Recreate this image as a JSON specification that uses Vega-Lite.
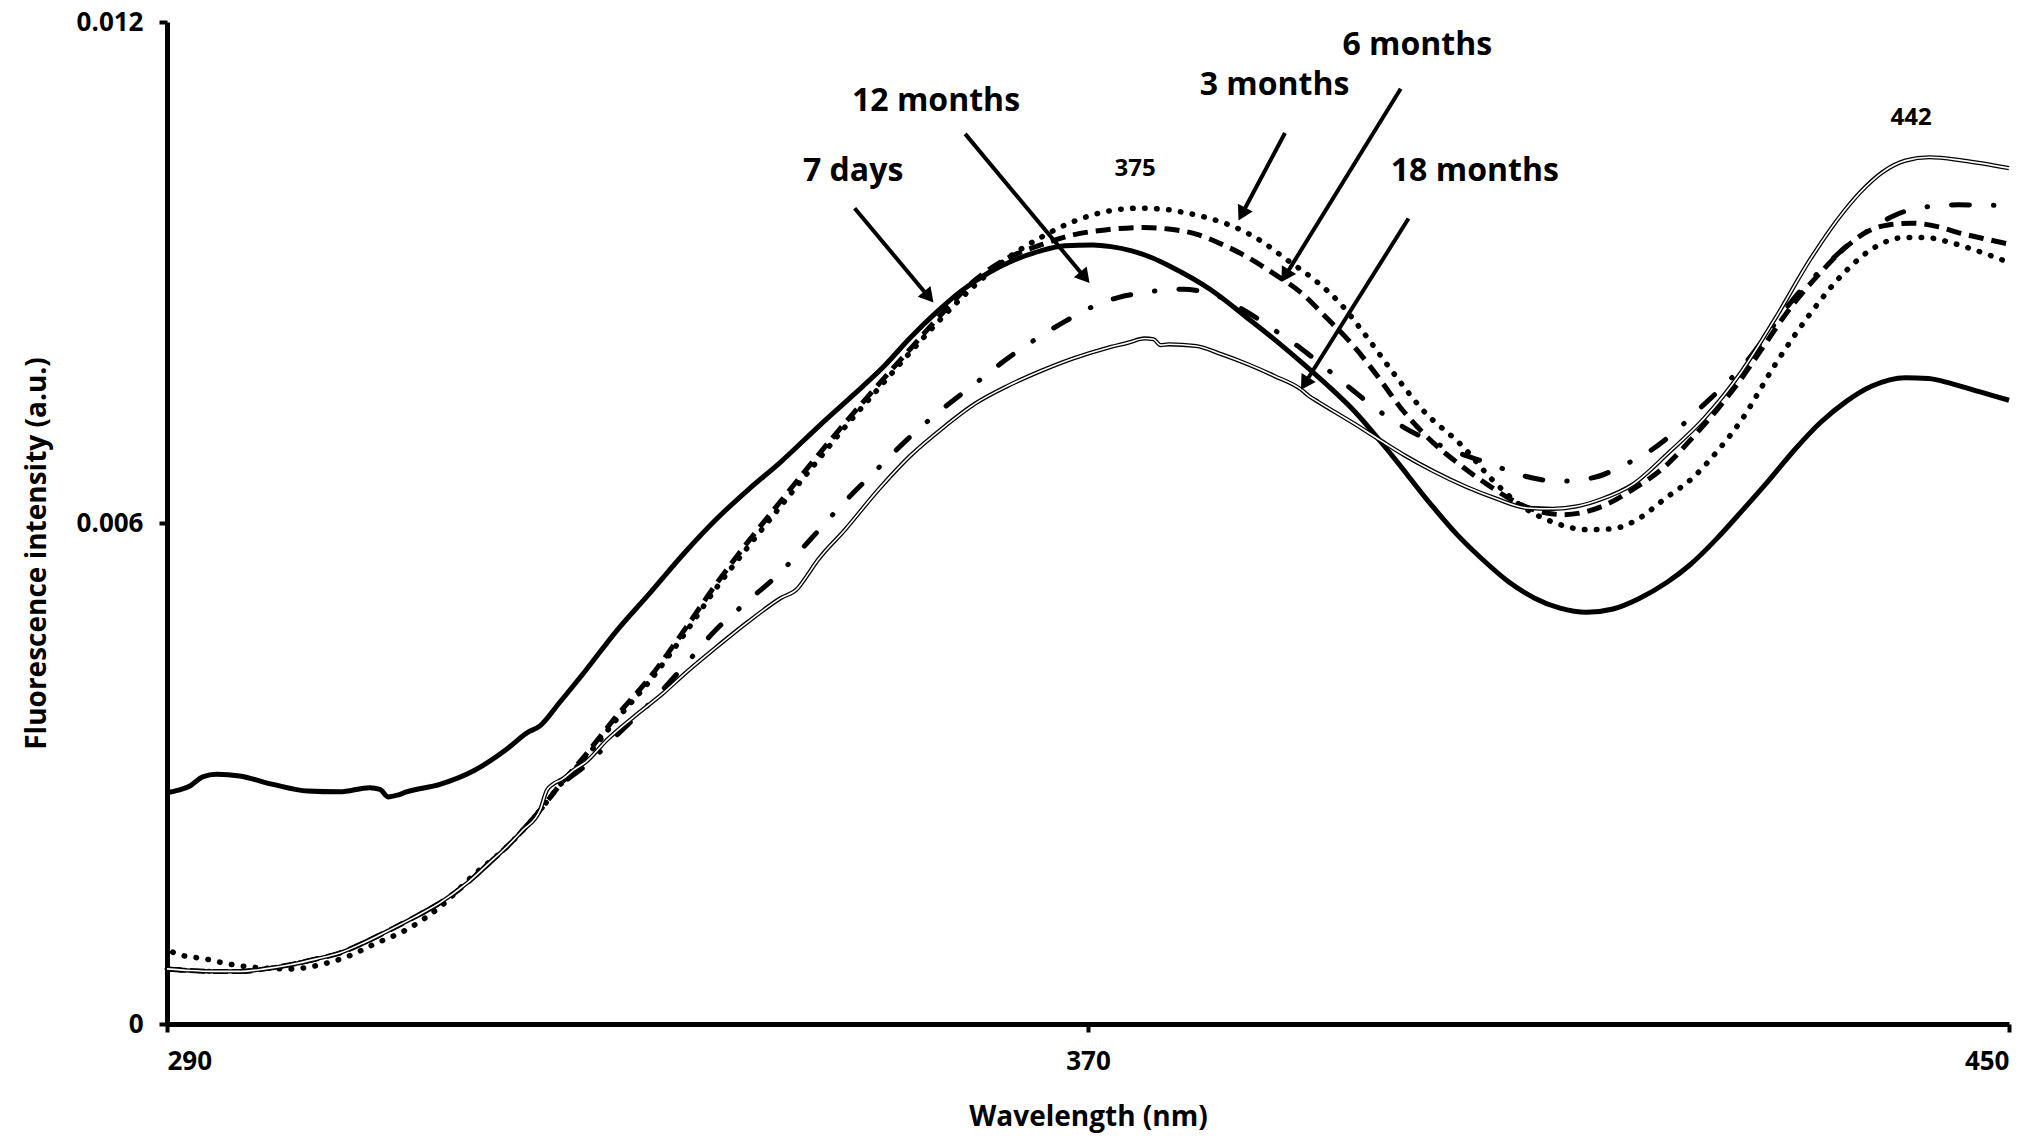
{
"$schema":"https://vega.github.io/schema/vega-lite/v6.json",
"width":1842,"height":1002,
"autosize":{"type":"none"},
"padding":{"left":167,"top":22,"right":31,"bottom":114},
"background":"white",
"config":{"view":{"stroke":null},
"axis":{"grid":false,"domainColor":"black","domainWidth":5,"tickColor":"black","tickWidth":4,"tickSize":8,"labelFont":"Open Sans","labelFontWeight":"bold","labelFontSize":26,"labelColor":"black","titleFont":"Open Sans","titleFontWeight":"bold","titleColor":"black","labelPadding":16},
"axisX":{"titleFontSize":28,"titlePadding":29},
"axisY":{"titleFontSize":28,"titlePadding":25}},
"datasets":{
"spectra":[
{"s":"7 days","w":290,"v":0.00277},{"s":"7 days","w":291,"v":0.00280},{"s":"7 days","w":292,"v":0.00285},{"s":"7 days","w":293.1,"v":0.00296},{"s":"7 days","w":294.3,"v":0.00299},{"s":"7 days","w":296.3,"v":0.00297},{"s":"7 days","w":299.2,"v":0.00287},{"s":"7 days","w":302.2,"v":0.00279},{"s":"7 days","w":305,"v":0.00278},{"s":"7 days","w":307.6,"v":0.00283},{"s":"7 days","w":308.5,"v":0.00281},{"s":"7 days","w":309.2,"v":0.00272},{"s":"7 days","w":310,"v":0.00274},{"s":"7 days","w":310.8,"v":0.00278},{"s":"7 days","w":313.7,"v":0.00287},{"s":"7 days","w":316.6,"v":0.00303},{"s":"7 days","w":319.5,"v":0.00329},{"s":"7 days","w":321.3,"v":0.00349},{"s":"7 days","w":322.4,"v":0.00357},{"s":"7 days","w":324.1,"v":0.00385},{"s":"7 days","w":326.4,"v":0.00424},{"s":"7 days","w":329,"v":0.00470},{"s":"7 days","w":332,"v":0.00517},{"s":"7 days","w":335,"v":0.00565},{"s":"7 days","w":337.6,"v":0.00603},{"s":"7 days","w":340.5,"v":0.00640},{"s":"7 days","w":343.3,"v":0.00673},{"s":"7 days","w":346.7,"v":0.00717},{"s":"7 days","w":349.5,"v":0.00752},{"s":"7 days","w":352.3,"v":0.00788},{"s":"7 days","w":354.5,"v":0.00821},{"s":"7 days","w":356.8,"v":0.00852},{"s":"7 days","w":359,"v":0.00878},{"s":"7 days","w":361.4,"v":0.00900},{"s":"7 days","w":363.6,"v":0.00915},{"s":"7 days","w":365.9,"v":0.00926},{"s":"7 days","w":368,"v":0.00932},{"s":"7 days","w":370.4,"v":0.00933},{"s":"7 days","w":372,"v":0.00931},{"s":"7 days","w":373.8,"v":0.00926},{"s":"7 days","w":375.5,"v":0.00918},{"s":"7 days","w":377.2,"v":0.00907},{"s":"7 days","w":380.6,"v":0.00880},{"s":"7 days","w":383.9,"v":0.00845},{"s":"7 days","w":386,"v":0.00822},{"s":"7 days","w":388.5,"v":0.00793},{"s":"7 days","w":390.8,"v":0.00765},{"s":"7 days","w":393,"v":0.00736},{"s":"7 days","w":396.4,"v":0.00681},{"s":"7 days","w":399.8,"v":0.00622},{"s":"7 days","w":402,"v":0.00587},{"s":"7 days","w":404.3,"v":0.00556},{"s":"7 days","w":406.5,"v":0.00530},{"s":"7 days","w":408.8,"v":0.00510},{"s":"7 days","w":411,"v":0.00498},{"s":"7 days","w":413.3,"v":0.00493},{"s":"7 days","w":415.6,"v":0.00497},{"s":"7 days","w":417.8,"v":0.00509},{"s":"7 days","w":420.3,"v":0.00529},{"s":"7 days","w":422.3,"v":0.00550},{"s":"7 days","w":424.6,"v":0.00581},{"s":"7 days","w":426.9,"v":0.00616},{"s":"7 days","w":429.2,"v":0.00652},{"s":"7 days","w":431.4,"v":0.00688},{"s":"7 days","w":433.6,"v":0.00720},{"s":"7 days","w":435.9,"v":0.00746},{"s":"7 days","w":438.1,"v":0.00764},{"s":"7 days","w":441,"v":0.00774},{"s":"7 days","w":443,"v":0.00773},{"s":"7 days","w":445,"v":0.00767},{"s":"7 days","w":447.5,"v":0.00757},{"s":"7 days","w":450,"v":0.00747},

{"s":"3 months","w":290.5,"v":0.00086},{"s":"3 months","w":291.1,"v":0.00083},{"s":"3 months","w":293.3,"v":0.00078},{"s":"3 months","w":295.3,"v":0.00072},{"s":"3 months","w":297.5,"v":0.00068},{"s":"3 months","w":300.7,"v":0.00066},{"s":"3 months","w":303.9,"v":0.00073},{"s":"3 months","w":305.9,"v":0.00082},{"s":"3 months","w":307.9,"v":0.00095},{"s":"3 months","w":310.8,"v":0.00113},{"s":"3 months","w":313.7,"v":0.00140},{"s":"3 months","w":316.6,"v":0.00178},{"s":"3 months","w":319.5,"v":0.00212},{"s":"3 months","w":320.9,"v":0.00232},{"s":"3 months","w":322.4,"v":0.00256},{"s":"3 months","w":324,"v":0.00284},{"s":"3 months","w":326.4,"v":0.00320},{"s":"3 months","w":329,"v":0.00364},{"s":"3 months","w":332,"v":0.00412},{"s":"3 months","w":335,"v":0.00468},{"s":"3 months","w":337.6,"v":0.00520},{"s":"3 months","w":340.5,"v":0.00572},{"s":"3 months","w":343.3,"v":0.00620},{"s":"3 months","w":346,"v":0.00666},{"s":"3 months","w":348.9,"v":0.00715},{"s":"3 months","w":351.8,"v":0.00761},{"s":"3 months","w":354.6,"v":0.00805},{"s":"3 months","w":357.4,"v":0.00847},{"s":"3 months","w":360.2,"v":0.00885},{"s":"3 months","w":363,"v":0.00917},{"s":"3 months","w":365.9,"v":0.00942},{"s":"3 months","w":368.2,"v":0.00958},{"s":"3 months","w":370.4,"v":0.00969},{"s":"3 months","w":372.4,"v":0.00975},{"s":"3 months","w":374.4,"v":0.00977},{"s":"3 months","w":376.4,"v":0.00976},{"s":"3 months","w":378.3,"v":0.00972},{"s":"3 months","w":380.5,"v":0.00965},{"s":"3 months","w":382.8,"v":0.00954},{"s":"3 months","w":385,"v":0.00938},{"s":"3 months","w":387.3,"v":0.00915},{"s":"3 months","w":389.6,"v":0.00892},{"s":"3 months","w":391.9,"v":0.00863},{"s":"3 months","w":394.1,"v":0.00825},{"s":"3 months","w":396.4,"v":0.00782},{"s":"3 months","w":399.1,"v":0.00735},{"s":"3 months","w":402.6,"v":0.00691},{"s":"3 months","w":405.1,"v":0.00652},{"s":"3 months","w":407.5,"v":0.00622},{"s":"3 months","w":410.4,"v":0.00601},{"s":"3 months","w":413.4,"v":0.00592},{"s":"3 months","w":415.5,"v":0.00593},{"s":"3 months","w":417.3,"v":0.00601},{"s":"3 months","w":420.3,"v":0.00631},{"s":"3 months","w":422.6,"v":0.00655},{"s":"3 months","w":424.6,"v":0.00685},{"s":"3 months","w":426.7,"v":0.00722},{"s":"3 months","w":429.7,"v":0.00790},{"s":"3 months","w":432.7,"v":0.00850},{"s":"3 months","w":435.7,"v":0.00900},{"s":"3 months","w":438.7,"v":0.00933},{"s":"3 months","w":441,"v":0.00942},{"s":"3 months","w":442.6,"v":0.00942},{"s":"3 months","w":444.9,"v":0.00936},{"s":"3 months","w":446.8,"v":0.00928},{"s":"3 months","w":450,"v":0.00912},

{"s":"6 months","w":290,"v":0.00066},{"s":"6 months","w":292,"v":0.00064},{"s":"6 months","w":294,"v":0.00063},{"s":"6 months","w":296.3,"v":0.00063},{"s":"6 months","w":298.5,"v":0.00066},{"s":"6 months","w":300.7,"v":0.00071},{"s":"6 months","w":303,"v":0.00078},{"s":"6 months","w":305,"v":0.00085},{"s":"6 months","w":307.2,"v":0.00098},{"s":"6 months","w":309.4,"v":0.00113},{"s":"6 months","w":311.5,"v":0.00128},{"s":"6 months","w":313.7,"v":0.00145},{"s":"6 months","w":316,"v":0.00168},{"s":"6 months","w":318,"v":0.00193},{"s":"6 months","w":319.5,"v":0.00212},{"s":"6 months","w":320.9,"v":0.00232},{"s":"6 months","w":322.4,"v":0.00256},{"s":"6 months","w":324,"v":0.00284},{"s":"6 months","w":326.4,"v":0.00323},{"s":"6 months","w":329,"v":0.00368},{"s":"6 months","w":332,"v":0.00416},{"s":"6 months","w":335,"v":0.00473},{"s":"6 months","w":337.6,"v":0.00525},{"s":"6 months","w":340.5,"v":0.00578},{"s":"6 months","w":343.3,"v":0.00626},{"s":"6 months","w":346,"v":0.00672},{"s":"6 months","w":348.9,"v":0.00720},{"s":"6 months","w":351.8,"v":0.00766},{"s":"6 months","w":354.6,"v":0.00809},{"s":"6 months","w":357.4,"v":0.00852},{"s":"6 months","w":360.2,"v":0.00891},{"s":"6 months","w":363,"v":0.00917},{"s":"6 months","w":365.9,"v":0.00933},{"s":"6 months","w":368.7,"v":0.00945},{"s":"6 months","w":371.5,"v":0.00951},{"s":"6 months","w":374.9,"v":0.00954},{"s":"6 months","w":377,"v":0.00952},{"s":"6 months","w":379.4,"v":0.00946},{"s":"6 months","w":381.6,"v":0.00934},{"s":"6 months","w":383.9,"v":0.00918},{"s":"6 months","w":386.2,"v":0.00898},{"s":"6 months","w":388.5,"v":0.00876},{"s":"6 months","w":390.7,"v":0.00846},{"s":"6 months","w":393,"v":0.00813},{"s":"6 months","w":395.2,"v":0.00775},{"s":"6 months","w":397.1,"v":0.00739},{"s":"6 months","w":400,"v":0.00696},{"s":"6 months","w":402,"v":0.00673},{"s":"6 months","w":404.7,"v":0.00646},{"s":"6 months","w":408.1,"v":0.00619},{"s":"6 months","w":411.3,"v":0.00610},{"s":"6 months","w":414.5,"v":0.00619},{"s":"6 months","w":417.3,"v":0.00640},{"s":"6 months","w":420.3,"v":0.00670},{"s":"6 months","w":422.5,"v":0.00702},{"s":"6 months","w":424.6,"v":0.00735},{"s":"6 months","w":426.7,"v":0.00772},{"s":"6 months","w":428.7,"v":0.00812},{"s":"6 months","w":430.6,"v":0.00850},{"s":"6 months","w":433.9,"v":0.00904},{"s":"6 months","w":435.8,"v":0.00930},{"s":"6 months","w":437.7,"v":0.00949},{"s":"6 months","w":439.5,"v":0.00957},{"s":"6 months","w":441.6,"v":0.00959},{"s":"6 months","w":443.8,"v":0.00955},{"s":"6 months","w":445.8,"v":0.00947},{"s":"6 months","w":448,"v":0.00940},{"s":"6 months","w":450,"v":0.00934},

{"s":"12 months","w":290,"v":0.00066},{"s":"12 months","w":292,"v":0.00064},{"s":"12 months","w":294,"v":0.00063},{"s":"12 months","w":296.3,"v":0.00063},{"s":"12 months","w":298.5,"v":0.00066},{"s":"12 months","w":300.7,"v":0.00071},{"s":"12 months","w":303,"v":0.00078},{"s":"12 months","w":305,"v":0.00085},{"s":"12 months","w":307.2,"v":0.00098},{"s":"12 months","w":309.4,"v":0.00113},{"s":"12 months","w":311.5,"v":0.00128},{"s":"12 months","w":313.7,"v":0.00145},{"s":"12 months","w":316,"v":0.00168},{"s":"12 months","w":318,"v":0.00193},{"s":"12 months","w":319.5,"v":0.00212},{"s":"12 months","w":320.9,"v":0.00232},{"s":"12 months","w":322.4,"v":0.00256},{"s":"12 months","w":324,"v":0.00283},{"s":"12 months","w":326.4,"v":0.00310},{"s":"12 months","w":329,"v":0.00345},{"s":"12 months","w":332,"v":0.00385},{"s":"12 months","w":335,"v":0.00430},{"s":"12 months","w":337.6,"v":0.00471},{"s":"12 months","w":340.5,"v":0.00507},{"s":"12 months","w":343.3,"v":0.00541},{"s":"12 months","w":346,"v":0.00582},{"s":"12 months","w":348.9,"v":0.00626},{"s":"12 months","w":351.8,"v":0.00666},{"s":"12 months","w":354.6,"v":0.00704},{"s":"12 months","w":357.4,"v":0.00737},{"s":"12 months","w":360.2,"v":0.00767},{"s":"12 months","w":363,"v":0.00797},{"s":"12 months","w":365.9,"v":0.00824},{"s":"12 months","w":368.2,"v":0.00843},{"s":"12 months","w":370.4,"v":0.00859},{"s":"12 months","w":372.6,"v":0.00870},{"s":"12 months","w":374.9,"v":0.00876},{"s":"12 months","w":376.6,"v":0.00879},{"s":"12 months","w":378.3,"v":0.00880},{"s":"12 months","w":380,"v":0.00877},{"s":"12 months","w":381.1,"v":0.00873},{"s":"12 months","w":382.5,"v":0.00863},{"s":"12 months","w":383.9,"v":0.00852},{"s":"12 months","w":386.2,"v":0.00831},{"s":"12 months","w":388.5,"v":0.00809},{"s":"12 months","w":390.7,"v":0.00785},{"s":"12 months","w":393,"v":0.00759},{"s":"12 months","w":395.2,"v":0.00735},{"s":"12 months","w":397.5,"v":0.00714},{"s":"12 months","w":399.8,"v":0.00698},{"s":"12 months","w":402,"v":0.00685},{"s":"12 months","w":404.7,"v":0.00672},{"s":"12 months","w":408,"v":0.00656},{"s":"12 months","w":410.8,"v":0.00650},{"s":"12 months","w":413.8,"v":0.00654},{"s":"12 months","w":416.5,"v":0.00669},{"s":"12 months","w":419,"v":0.00688},{"s":"12 months","w":421.2,"v":0.00712},{"s":"12 months","w":423.2,"v":0.00738},{"s":"12 months","w":425.2,"v":0.00764},{"s":"12 months","w":427.3,"v":0.00795},{"s":"12 months","w":429.2,"v":0.00830},{"s":"12 months","w":431.2,"v":0.00867},{"s":"12 months","w":434.2,"v":0.00910},{"s":"12 months","w":436,"v":0.00933},{"s":"12 months","w":438.1,"v":0.00953},{"s":"12 months","w":440,"v":0.00968},{"s":"12 months","w":442,"v":0.00977},{"s":"12 months","w":445.6,"v":0.00981},{"s":"12 months","w":450,"v":0.00980},

{"s":"18 months","w":290,"v":0.00066},{"s":"18 months","w":292,"v":0.00064},{"s":"18 months","w":294,"v":0.00063},{"s":"18 months","w":296.3,"v":0.00063},{"s":"18 months","w":298.5,"v":0.00066},{"s":"18 months","w":300.7,"v":0.00071},{"s":"18 months","w":303,"v":0.00078},{"s":"18 months","w":305,"v":0.00085},{"s":"18 months","w":307.2,"v":0.00098},{"s":"18 months","w":309.4,"v":0.00113},{"s":"18 months","w":311.5,"v":0.00128},{"s":"18 months","w":313.7,"v":0.00145},{"s":"18 months","w":316,"v":0.00168},{"s":"18 months","w":318,"v":0.00193},{"s":"18 months","w":319.5,"v":0.00212},{"s":"18 months","w":320.9,"v":0.00232},{"s":"18 months","w":322.4,"v":0.00256},{"s":"18 months","w":323,"v":0.00280},{"s":"18 months","w":323.5,"v":0.00287},{"s":"18 months","w":324.3,"v":0.00293},{"s":"18 months","w":325.3,"v":0.00304},{"s":"18 months","w":326.4,"v":0.00314},{"s":"18 months","w":328.2,"v":0.00340},{"s":"18 months","w":331.1,"v":0.00374},{"s":"18 months","w":333,"v":0.00395},{"s":"18 months","w":335,"v":0.00420},{"s":"18 months","w":337.6,"v":0.00450},{"s":"18 months","w":340.5,"v":0.00482},{"s":"18 months","w":343.3,"v":0.00510},{"s":"18 months","w":344.8,"v":0.00522},{"s":"18 months","w":345.4,"v":0.00533},{"s":"18 months","w":346.5,"v":0.00555},{"s":"18 months","w":348.9,"v":0.00592},{"s":"18 months","w":351.8,"v":0.00640},{"s":"18 months","w":354.6,"v":0.00681},{"s":"18 months","w":357.4,"v":0.00714},{"s":"18 months","w":360.2,"v":0.00743},{"s":"18 months","w":363,"v":0.00764},{"s":"18 months","w":365.9,"v":0.00782},{"s":"18 months","w":368.7,"v":0.00797},{"s":"18 months","w":371.5,"v":0.00809},{"s":"18 months","w":373.5,"v":0.00816},{"s":"18 months","w":374.9,"v":0.00821},{"s":"18 months","w":375.7,"v":0.00820},{"s":"18 months","w":376.3,"v":0.00813},{"s":"18 months","w":377,"v":0.00814},{"s":"18 months","w":379.4,"v":0.00812},{"s":"18 months","w":381.6,"v":0.00802},{"s":"18 months","w":383.9,"v":0.00790},{"s":"18 months","w":386.2,"v":0.00776},{"s":"18 months","w":388.5,"v":0.00760},{"s":"18 months","w":389.2,"v":0.00752},{"s":"18 months","w":390,"v":0.00745},{"s":"18 months","w":393,"v":0.00720},{"s":"18 months","w":395.4,"v":0.00699},{"s":"18 months","w":397.5,"v":0.00681},{"s":"18 months","w":400,"v":0.00662},{"s":"18 months","w":402.9,"v":0.00643},{"s":"18 months","w":405.5,"v":0.00629},{"s":"18 months","w":408.1,"v":0.00618},{"s":"18 months","w":410.4,"v":0.00617},{"s":"18 months","w":412.5,"v":0.00620},{"s":"18 months","w":414.5,"v":0.00628},{"s":"18 months","w":417.3,"v":0.00646},{"s":"18 months","w":420.5,"v":0.00685},{"s":"18 months","w":423.5,"v":0.00725},{"s":"18 months","w":426.7,"v":0.00780},{"s":"18 months","w":429.7,"v":0.00845},{"s":"18 months","w":432.7,"v":0.00915},{"s":"18 months","w":435.7,"v":0.00974},{"s":"18 months","w":437.5,"v":0.01002},{"s":"18 months","w":439,"v":0.01020},{"s":"18 months","w":441,"v":0.01034},{"s":"18 months","w":443.1,"v":0.01038},{"s":"18 months","w":446,"v":0.01034},{"s":"18 months","w":450,"v":0.01025}
],
"arrows":[
{"s":"7 days","w":349.73,"v":0.00977,"w2":356.17,"v2":0.008707,"angle":139.7},
{"s":"12 months","w":359.33,"v":0.01066,"w2":369.73,"v2":0.00894,"angle":140.1},
{"s":"3 months","w":387.11,"v":0.01067,"w2":383.37,"v2":0.0097,"angle":207.9},
{"s":"6 months","w":397.16,"v":0.0112,"w2":387.13,"v2":0.00896,"angle":211.7},
{"s":"18 months","w":397.84,"v":0.009646,"w2":388.83,"v2":0.00767,"angle":212.2}
],
"labels":[
{"t":"7 days","w":349.6,"v":0.01022},
{"t":"12 months","w":356.8,"v":0.01105},
{"t":"3 months","w":386.2,"v":0.01124},
{"t":"6 months","w":398.6,"v":0.01172},
{"t":"18 months","w":403.6,"v":0.01022}
],
"peaks":[
{"t":"375","w":374.1,"v":0.01024},
{"t":"442","w":441.5,"v":0.01085}
]
},
"layer":[
{"data":{"name":"spectra"},"transform":[{"filter":"datum.s === '7 days'"}],
 "mark":{"type":"line","color":"black","strokeWidth":5,"interpolate":"monotone"},
 "encoding":{"x":{"field":"w","type":"quantitative","title":"Wavelength (nm)","scale":{"domain":[290,450],"nice":false,"zero":false},"axis":{"values":[290,370,450]}},
 "y":{"field":"v","type":"quantitative","title":"Fluorescence intensity (a.u.)","scale":{"domain":[0,0.012],"nice":false},"axis":{"values":[0,0.006,0.012],"format":".3~f","titleY":531}}}},
{"data":{"name":"spectra"},"transform":[{"filter":"datum.s === '6 months'"}],
 "mark":{"type":"line","color":"black","strokeWidth":5,"strokeDash":[15,8],"interpolate":"monotone"},
 "encoding":{"x":{"field":"w","type":"quantitative","title":"Wavelength (nm)"},"y":{"field":"v","type":"quantitative","title":"Fluorescence intensity (a.u.)"}}},
{"data":{"name":"spectra"},"transform":[{"filter":"datum.s === '3 months'"}],
 "mark":{"type":"line","color":"black","strokeWidth":5.5,"strokeDash":[0.5,11.5],"strokeCap":"round","interpolate":"monotone"},
 "encoding":{"x":{"field":"w","type":"quantitative","title":"Wavelength (nm)"},"y":{"field":"v","type":"quantitative","title":"Fluorescence intensity (a.u.)"}}},
{"data":{"name":"spectra"},"transform":[{"filter":"datum.s === '12 months'"}],
 "mark":{"type":"line","color":"black","strokeWidth":5,"strokeDash":[18,24,0.5,24],"strokeCap":"round","interpolate":"monotone"},
 "encoding":{"x":{"field":"w","type":"quantitative","title":"Wavelength (nm)"},"y":{"field":"v","type":"quantitative","title":"Fluorescence intensity (a.u.)"}}},
{"data":{"name":"spectra"},"transform":[{"filter":"datum.s === '18 months'"}],
 "mark":{"type":"line","color":"black","strokeWidth":4.2,"interpolate":"monotone"},
 "encoding":{"x":{"field":"w","type":"quantitative","title":"Wavelength (nm)"},"y":{"field":"v","type":"quantitative","title":"Fluorescence intensity (a.u.)"}}},
{"data":{"name":"spectra"},"transform":[{"filter":"datum.s === '18 months'"}],
 "mark":{"type":"line","color":"white","strokeWidth":1.6,"interpolate":"monotone"},
 "encoding":{"x":{"field":"w","type":"quantitative","title":"Wavelength (nm)"},"y":{"field":"v","type":"quantitative","title":"Fluorescence intensity (a.u.)"}}},
{"data":{"name":"arrows"},
 "mark":{"type":"rule","color":"black","strokeWidth":4},
 "encoding":{"x":{"field":"w","type":"quantitative","title":"Wavelength (nm)"},"y":{"field":"v","type":"quantitative","title":"Fluorescence intensity (a.u.)"},"x2":{"field":"w2"},"y2":{"field":"v2"}}},
{"data":{"name":"arrows"},
 "mark":{"type":"point","shape":"triangle-up","filled":true,"color":"black","opacity":1,"size":280},
 "encoding":{"x":{"field":"w2","type":"quantitative","title":"Wavelength (nm)"},"y":{"field":"v2","type":"quantitative","title":"Fluorescence intensity (a.u.)"},"angle":{"field":"angle","type":"quantitative","scale":null}}},
{"data":{"name":"labels"},
 "mark":{"type":"text","font":"Open Sans","fontWeight":"bold","fontSize":32,"color":"black","align":"center","baseline":"middle"},
 "encoding":{"x":{"field":"w","type":"quantitative","title":"Wavelength (nm)"},"y":{"field":"v","type":"quantitative","title":"Fluorescence intensity (a.u.)"},"text":{"field":"t"}}},
{"data":{"name":"peaks"},
 "mark":{"type":"text","font":"Open Sans","fontWeight":"bold","fontSize":24,"color":"black","align":"center","baseline":"middle"},
 "encoding":{"x":{"field":"w","type":"quantitative","title":"Wavelength (nm)"},"y":{"field":"v","type":"quantitative","title":"Fluorescence intensity (a.u.)"},"text":{"field":"t"}}}
]
}
